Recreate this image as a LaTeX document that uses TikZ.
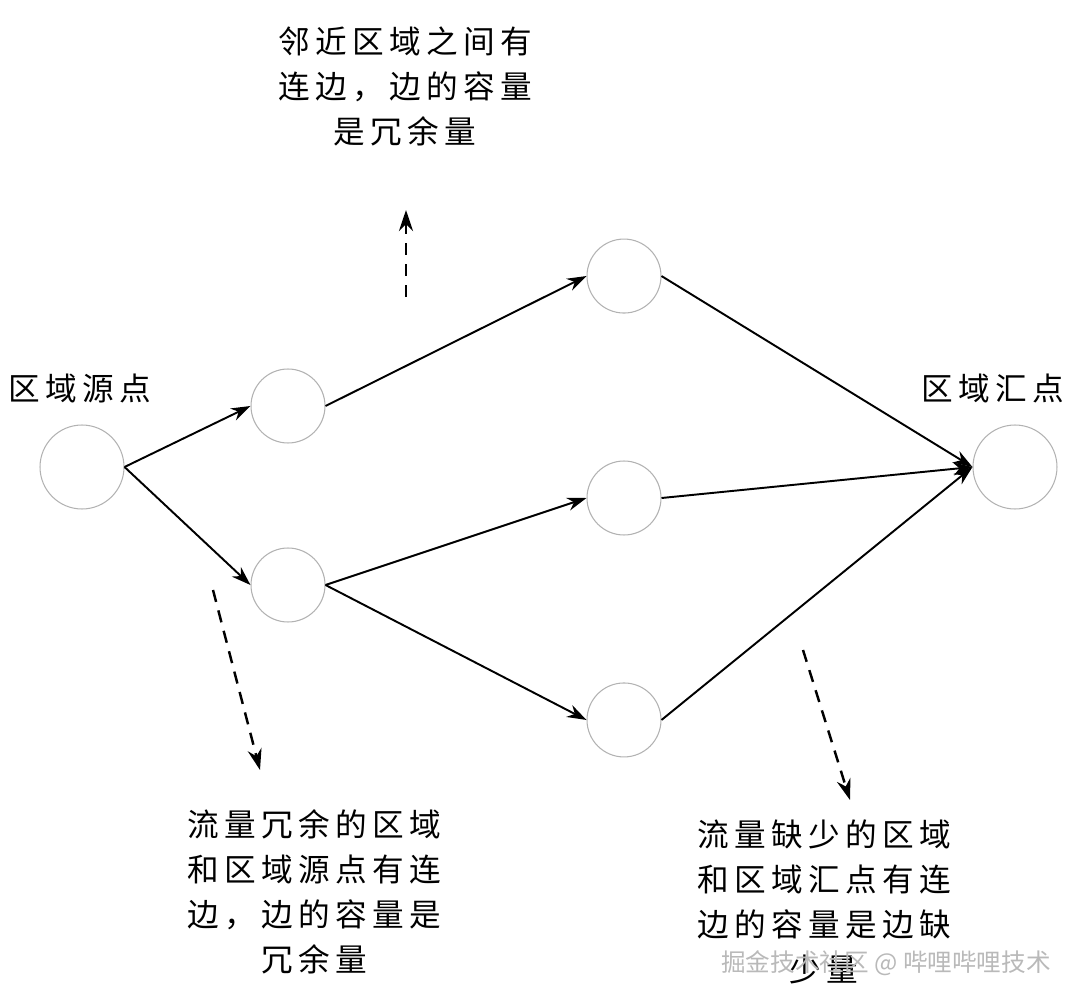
\documentclass[tikz,border=0pt]{standalone}
\usepackage{fontspec}
\setmainfont{Noto Sans CJK SC}
\usepackage{tikz}
\usetikzlibrary{arrows.meta, positioning}

\begin{document}
\begin{tikzpicture}[x=0.02cm, y=-0.02cm, ->, >={Stealth[length=11pt, width=7.5pt]},
line width=1.1pt, node distance=4.44cm,
region/.style={circle, draw=gray!60, line width=0.6pt, minimum size=1.48cm, inner sep=0pt},
note/.style={align=center, font=\fontsize{18}{25.6}\selectfont\addfontfeatures{LetterSpace=17}},
hint/.style={line width=1.4pt, dash pattern=on 7pt off 5pt, -{Stealth[length=12pt, width=8pt]}}]

\useasboundingbox (0,0) rectangle (1080,1001);

\node [region, minimum size=1.68cm] (s) at (82,467) {};
\node [note] (slabel) at (80,388) {区域源点};
\node [region, minimum size=1.68cm] (t) at (1015,467) {};
\node [note] (tlabel) at (993,388) {区域汇点};

\node [region] (a1) at (288,406) {};
\node [region] (a2) at (288,585) {};
\node [region] (b2) at (624,498) {};
\node [region] (b1) [above of=b2] {};
\node [region] (b3) [below of=b2] {};

\path (s.east) edge (a1.west);
\path (s.east) edge (a2.west);
\path (a1.east) edge (b1.west);
\path (a2.east) edge (b2.west);
\path (a2.east) edge (b3.west);
\path (b1.east) edge (t.west);
\path (b2.east) edge (t.west);
\path (b3.east) edge (t.west);

% hints
\node [note] (topnote) at (405,86) {邻近区域之间有\\连边，边的容量\\是冗余量};
\coordinate (up0) at (406,297);
\coordinate (up1) at (406,210);
\draw [hint] (up0) -- (up1);

\node [note] (leftnote) at (314,892) {流量冗余的区域\\和区域源点有连\\边，边的容量是\\冗余量};
\coordinate (l0) at (213,590);
\coordinate (l1) at (260,770);
\draw [hint] (l0) -- (l1);

\node [note] (rightnote) at (824,902) {流量缺少的区域\\和区域汇点有连\\边的容量是边缺\\少量};
\coordinate (r0) at (803,650);
\coordinate (r1) at (850,800);
\draw [hint] (r0) -- (r1);

\node [text=gray!55, font=\fontsize{14}{16}\selectfont] (mark) at (886,963) {掘金技术社区 @ 哔哩哔哩技术};

\end{tikzpicture}
\end{document}
